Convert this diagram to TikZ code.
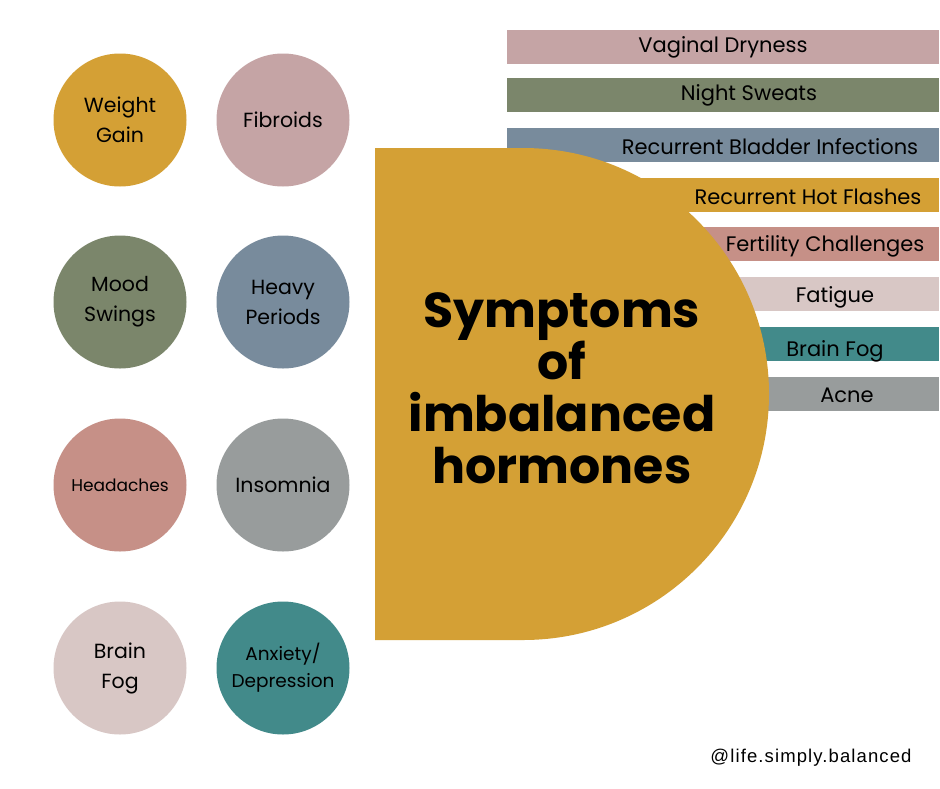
\documentclass[tikz,border=0pt]{standalone}
\usepackage{fontspec}
\setmainfont{Poppins}
\newfontfamily\footfont[LetterSpace=6]{Liberation Sans}
\definecolor{gold}{HTML}{D4A035}
\definecolor{mauve}{HTML}{C5A4A5}
\definecolor{olive}{HTML}{7B866B}
\definecolor{slate}{HTML}{788B9C}
\definecolor{terra}{HTML}{C69087}
\definecolor{greyc}{HTML}{989C9C}
\definecolor{blush}{HTML}{D8C7C5}
\definecolor{teal}{HTML}{428A8A}
\tikzset{
  dot/.style={circle, minimum size=133pt, inner sep=0pt, align=center, font=\fontsize{20.5}{30}\selectfont},
  barbox/.style={rectangle, minimum width=432pt, minimum height=34pt, inner sep=0pt},
  bartext/.style={font=\fontsize{21}{24}\selectfont, inner sep=0pt},
}
\begin{document}
\begin{tikzpicture}[x=1pt,y=-1pt]
\useasboundingbox[fill=white] (0,0) rectangle (940,788);
% circles
\node[dot, fill=gold]  (c1) at (120,120) {Weight\\Gain};
\node[dot, fill=mauve] (c2) at (283,120) {Fibroids};
\node[dot, fill=olive] (c3) at (120,302) {Mood\\Swings};
\node[dot, fill=slate] (c4) at (283,302) {Heavy\\Periods};
\node[dot, fill=terra, font=\fontsize{17}{20}\selectfont] (c5) at (120,485) {Headaches};
\node[dot, fill=greyc] (c6) at (283,485) {Insomnia};
\node[dot, fill=blush] (c7) at (120,668) {Brain\\Fog};
\node[dot, fill=teal, font=\fontsize{18.5}{27}\selectfont] (c8) at (283,668) {Anxiety/\\Depression};
% bars
\node[barbox, fill=mauve] (b1) at (723,46.5) {};
\node[barbox, fill=olive] (b2) at (723,95) {};
\node[barbox, fill=slate] (b3) at (723,145) {};
\node[barbox, fill=gold]  (b4) at (723,195) {};
\node[barbox, fill=terra] (b5) at (723,244) {};
\node[barbox, fill=blush] (b6) at (723,294) {};
\node[barbox, fill=teal]  (b7) at (723,344) {};
\node[barbox, fill=greyc] (b8) at (723,393.5) {};
% D shape
\fill[gold] (375,148) -- (523,148) arc[start angle=-90, end angle=90, radius=246] -- (375,640) -- cycle;
% bar texts
\node[bartext] (t1) at (723,47) {Vaginal Dryness};
\node[bartext] (t2) at (749,95) {Night Sweats};
\node[bartext] (t3) at (770,147) {Recurrent Bladder Infections};
\node[bartext] (t4) at (808,197) {Recurrent Hot Flashes};
\node[bartext] (t5) at (825,246) {Fertility Challenges};
\node[bartext] (t6) at (835,297) {Fatigue};
\node[bartext] (t7) at (835,351) {Brain Fog};
\node[bartext] (t8) at (847,395) {Acne};
% title
\node[align=center, font=\fontsize{49}{52}\selectfont\bfseries, inner sep=0pt] (title) at (562,388) {Symptoms\\of\\imbalanced\\hormones};
% footer
\node[font=\footfont\fontsize{18.5}{22}\selectfont, inner sep=0pt] (foot) at (811,758) {@life.simply.balanced};
\end{tikzpicture}
\end{document}
